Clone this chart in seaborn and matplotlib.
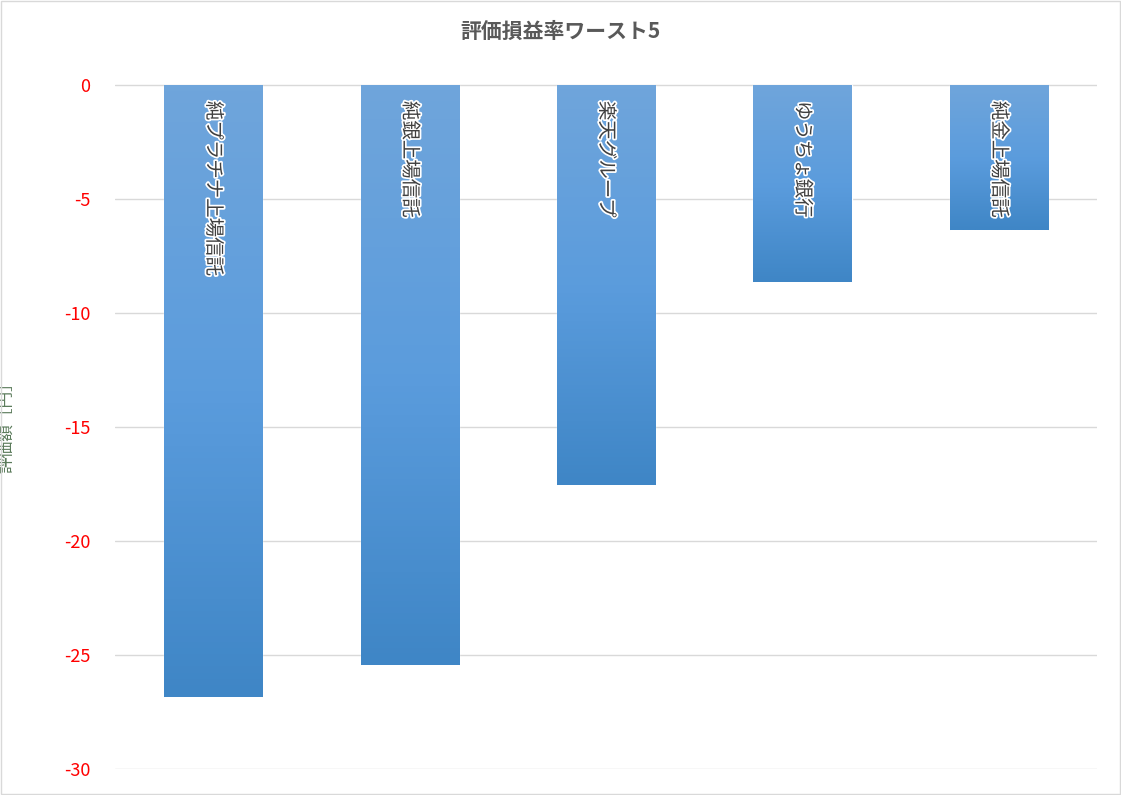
import numpy as np
import pandas as pd
import matplotlib
matplotlib.use("Agg")
import matplotlib.pyplot as plt
import matplotlib.patheffects as pe
from matplotlib.colors import LinearSegmentedColormap
import seaborn as sns

names = ["純プラチナ上場信託", "純銀上場信託", "楽天グループ", "ゆうちょ銀行", "純金上場信託"]
values = [-26.83, -25.44, -17.54, -8.64, -6.34]
yticks = [0, -5, -10, -15, -20, -25, -30]

sns.set_style("white")
plt.rcParams["font.family"] = ["Noto Sans CJK JP", "DejaVu Sans"]

fig = plt.figure(figsize=(11.21, 7.95), dpi=100)
fig.patches.append(plt.Rectangle((0.001, 0.001), 0.998, 0.998, transform=fig.transFigure,
                                 fill=False, edgecolor="#D9D9D9", linewidth=1))
ax = fig.add_axes([0.1026, 0.0327, 0.876, 0.869])

df = pd.DataFrame({"name": names, "value": values})
sns.barplot(data=df, x="name", y="value", color="#5B9BD5", width=0.5, ax=ax, saturation=1)

grad = LinearSegmentedColormap.from_list("g", ["#6FA5DB", "#5B9CDD", "#3F86C6"])
for p in ax.patches:
    x0, y0, w, h = p.get_x(), p.get_y(), p.get_width(), p.get_height()
    ylo, yhi = min(y0, y0 + h), max(y0, y0 + h)
    im = ax.imshow(np.linspace(0, 1, 100).reshape(-1, 1), cmap=grad, aspect="auto",
                   extent=[x0, x0 + w, ylo, yhi], origin="upper", zorder=2)
    im.set_clip_path(p)

for i, (n, v) in enumerate(zip(names, values)):
    ax.text(i, -0.7, n, rotation=-90, ha="center", va="top", fontsize=14, color="#404040",
            zorder=3, path_effects=[pe.withStroke(linewidth=2.5, foreground="white")])

ax.set_ylim(-30, 0.3)
ax.set_xlim(-0.5, 4.5)
ax.set_yticks(yticks)
ax.set_yticklabels([str(t) for t in yticks], color="#FF0000", fontsize=13)
ax.set_xticks([])
ax.set_xlabel("")
ax.set_ylabel("評価額［円］", color="#5B7B5B", fontsize=12, labelpad=35)
ax.yaxis.grid(True, color="#D9D9D9", linewidth=1)
ax.set_axisbelow(True)
ax.tick_params(axis="y", length=0, pad=18)
for s in ax.spines.values():
    s.set_visible(False)

fig.text(0.5, 0.96, "評価損益率ワースト5", ha="center", va="center", fontsize=15,
         fontweight="bold", color="#595959")

fig.savefig("out.png", dpi=100)
